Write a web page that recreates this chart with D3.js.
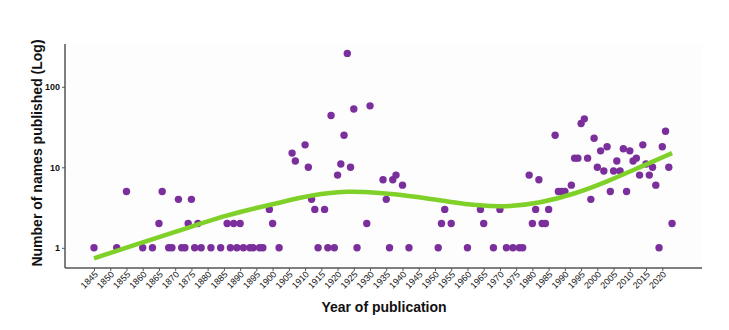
<!DOCTYPE html>
<html>
<head>
<meta charset="utf-8">
<script src="https://cdn.jsdelivr.net/npm/d3@7"></script>
<style>
  body { margin: 0; background: #fff; }
  text { font-family: "Liberation Sans", Arial, sans-serif; fill: #111; }
  .ytick { font-size: 9px; font-weight: bold; }
  .xtick { font-size: 9px; }
  .title { font-size: 14px; font-weight: bold; }
</style>
</head>
<body>
<div class="chart"></div>
<script>
// names published per year
var years = [1845, 1852, 1855, 1860, 1863, 1865, 1866, 1868, 1869, 1871, 1872, 1873, 1874, 1875, 1876, 1877, 1878,
    1881, 1884, 1886, 1887, 1888, 1889, 1890, 1891, 1893, 1894, 1896, 1897, 1899, 1900, 1902,
    1906, 1907, 1910, 1911, 1912, 1913, 1914, 1916, 1917, 1918, 1919, 1920, 1921, 1922, 1923, 1924, 1925, 1926,
    1929, 1930, 1934, 1935, 1936, 1937, 1938, 1940, 1942,
    1951, 1952, 1953, 1955, 1960, 1964, 1965, 1968, 1970, 1972, 1974, 1976, 1977,
    1979, 1980, 1981, 1982, 1983, 1984, 1985, 1987, 1988, 1989, 1990, 1992, 1993, 1994, 1995, 1996, 1997, 1998, 1999,
    2000, 2001, 2002, 2003, 2004, 2005, 2006, 2007, 2008, 2009, 2010, 2011, 2012, 2013, 2014, 2015, 2016, 2017, 2018,
    2019, 2020, 2021, 2022, 2023];
var counts = [1, 1, 5, 1, 1, 2, 5, 1, 1, 4, 1, 1, 2, 4, 1, 2, 1,
    1, 1, 2, 1, 2, 1, 2, 1, 1, 1, 1, 1, 3, 2, 1,
    15, 12, 19, 10, 4, 3, 1, 3, 1, 44, 1, 8, 11, 25, 260, 10, 53, 1,
    2, 58, 7, 4, 1, 7, 8, 6, 1,
    1, 2, 3, 2, 1, 3, 2, 1, 3, 1, 1, 1, 1,
    8, 2, 3, 7, 2, 2, 3, 25, 5, 5, 5, 6, 13, 13, 35, 40, 13, 4, 23,
    10, 16, 9, 18, 5, 9, 12, 9, 17, 5, 16, 12, 13, 8, 19, 11, 8, 10, 6,
    1, 18, 28, 10, 2];

// smoothed trend
var trendYears = [1845, 1860, 1875, 1886, 1896, 1902, 1912, 1923, 1933, 1943, 1954, 1964, 1973, 1982, 1993, 2003, 2013, 2023];
var trendValues = [0.74, 1.17, 1.83, 2.55, 3.19, 3.63, 4.53, 5.12, 4.83, 4.40, 3.74, 3.31, 3.24, 3.57, 4.66, 6.62, 10.0, 15.0];

var xTicks = d3.range(1845, 2021, 5);
var yTicks = [1, 10, 100];

var svgWidth = 729, svgHeight = 330;
var margin = {top: 44, right: 27, bottom: 62, left: 65};
var width = svgWidth - margin.left - margin.right;
var height = svgHeight - margin.top - margin.bottom;

var svg = d3.select(".chart").append("svg")
    .attr("width", svgWidth)
    .attr("height", svgHeight);

var g = svg.append("g")
    .attr("transform", "translate(" + margin.left + "," + margin.top + ")");

var xScale = d3.scaleLinear()
    .domain([1845, 2020])
    .range([29, 597.3]);

var yScale = d3.scaleLog()
    .domain([1, 100])
    .range([203.8, 42.8]);

// panel
g.append("rect")
    .attr("width", width)
    .attr("height", height)
    .attr("fill", "#fdfdfd");

// x axis
var xAxis = g.append("g")
    .attr("transform", "translate(0," + height + ")")
    .call(d3.axisBottom(xScale).tickValues(xTicks).tickFormat(d3.format("d")).tickSize(3).tickSizeOuter(0));
xAxis.select(".domain").attr("stroke", "#555").attr("stroke-width", 1.5).attr("d", "M0,0H" + width);
xAxis.selectAll(".tick line").attr("stroke", "#555");
xAxis.selectAll(".tick text")
    .attr("class", "xtick")
    .attr("text-anchor", "end")
    .attr("x", 0)
    .attr("y", 0)
    .attr("dy", 0)
    .attr("transform", "translate(4,7) rotate(-45)");

// y axis
var yAxis = g.append("g")
    .call(d3.axisLeft(yScale).tickValues(yTicks).tickFormat(d3.format("d")).tickSize(3).tickSizeOuter(0));
yAxis.select(".domain").attr("stroke", "#555").attr("stroke-width", 1.5).attr("d", "M0,0V" + height);
yAxis.selectAll(".tick line").attr("stroke", "#555");
yAxis.selectAll(".tick text").attr("class", "ytick").attr("x", -5);

// points
g.selectAll("circle")
    .data(years.map((d, i) => ({year: d, n: counts[i]})))
    .enter()
    .append("circle")
    .attr("cx", d => xScale(d.year))
    .attr("cy", d => yScale(d.n))
    .attr("r", 3.7)
    .attr("fill", "#7b2f9c");

// trend line
var line = d3.line()
    .x(d => xScale(d[0]))
    .y(d => yScale(d[1]))
    .curve(d3.curveBasis);

g.append("path")
    .datum(trendYears.map((d, i) => [d, trendValues[i]]))
    .attr("d", line)
    .attr("fill", "none")
    .attr("stroke", "#7fd028")
    .attr("stroke-width", 4.5)
    .attr("stroke-linecap", "butt");

// titles
svg.append("text")
    .attr("class", "title")
    .attr("x", 384)
    .attr("y", 312)
    .attr("text-anchor", "middle")
    .text("Year of publication");

svg.append("text")
    .attr("class", "title")
    .attr("transform", "translate(42,153) rotate(-90)")
    .attr("text-anchor", "middle")
    .text("Number of names published (Log)");
</script>
</body>
</html>
